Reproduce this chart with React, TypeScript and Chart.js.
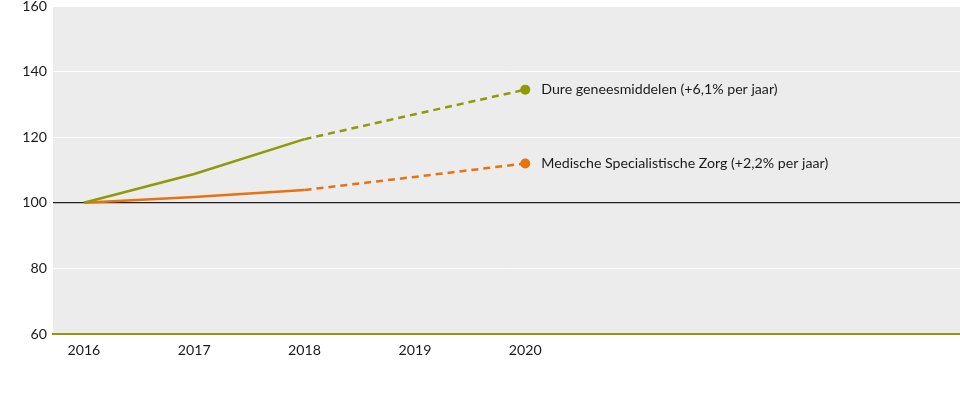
import React, { useEffect, useRef } from "react";
import { Chart, registerables } from "chart.js";

Chart.register(...registerables);

const years = [2016, 2017, 2018, 2019, 2020];
const dureGeneesmiddelen = [100, 108.8, 119.4, 127.0, 134.5];
const medischeSpecialistisch = [100, 101.8, 103.9, 107.9, 112.0];
const seriesLabels = [
  "Dure geneesmiddelen (+6,1% per jaar)",
  "Medische Specialistische Zorg (+2,2% per jaar)",
];
const yTicks = [60, 80, 100, 120, 140, 160];
const lastActual = 2018;

const OLIVE = "#8e9a07";
const ORANGE = "#e8720f";
const FONT = "Lato, 'Noto Sans', sans-serif";

const bgPlugin = {
  id: "bgPlugin",
  beforeDraw(chart: any) {
    const { ctx, chartArea } = chart;
    ctx.save();
    ctx.fillStyle = "#ebeceb";
    ctx.fillRect(chartArea.left, chartArea.top, chartArea.right - chartArea.left, chartArea.bottom - chartArea.top);
    ctx.restore();
  },
};

const endLabelPlugin = {
  id: "endLabelPlugin",
  afterDatasetsDraw(chart: any) {
    const { ctx } = chart;
    ctx.save();
    ctx.font = `14.2px ${FONT}`;
    ctx.fillStyle = "#1a1a1a";
    ctx.textBaseline = "middle";
    ctx.textAlign = "left";
    chart.data.datasets.forEach((ds: any, i: number) => {
      const meta = chart.getDatasetMeta(i);
      const pt = meta.data[meta.data.length - 1];
      if (pt) ctx.fillText(seriesLabels[i], pt.x + 16, pt.y);
    });
    ctx.restore();
  },
};

export default function App() {
  const ref = useRef<HTMLCanvasElement>(null);
  useEffect(() => {
    if (!ref.current) return;
    const mk = (vals: number[], color: string, label: string) => ({
      label,
      data: years.map((y, i) => ({ x: y, y: vals[i] })),
      borderColor: color,
      backgroundColor: color,
      borderWidth: 2.5,
      tension: 0,
      pointRadius: years.map((_, i) => (i === years.length - 1 ? 5 : 0)),
      pointHoverRadius: 0,
      pointBorderWidth: 0,
      segment: {
        borderDash: (c: any) => (c.p0.parsed.x >= lastActual ? [7, 5] : undefined),
      },
    });
    const chart = new Chart(ref.current, {
      type: "line",
      data: {
        datasets: [
          mk(dureGeneesmiddelen, OLIVE, seriesLabels[0]),
          mk(medischeSpecialistisch, ORANGE, seriesLabels[1]),
        ],
      },
      options: {
        animation: false,
        responsive: true,
        maintainAspectRatio: false,
        layout: { autoPadding: false, padding: { top: 6, right: 0, left: 0, bottom: 0 } },
        plugins: { legend: { display: false }, tooltip: { enabled: false } },
        scales: {
          x: {
            type: "linear",
            min: 2015.72,
            max: 2023.94,
            afterBuildTicks: (s: any) => {
              s.ticks = years.map((v) => ({ value: v }));
            },
            afterFit: (s: any) => {
              s.height = 60;
              s.paddingLeft = 0;
              s.paddingRight = 0;
            },
            ticks: {
              font: { family: FONT, size: 14.2 },
              color: "#1a1a1a",
              padding: 8,
              maxRotation: 0,
              callback: (v: any) => String(v),
            },
            grid: { display: false, drawTicks: false },
            border: { display: true, color: OLIVE, width: 2 },
          },
          y: {
            min: 60,
            max: 160,
            afterBuildTicks: (s: any) => {
              s.ticks = yTicks.map((v) => ({ value: v }));
            },
            afterFit: (s: any) => {
              s.width = 53;
              s.paddingTop = 0;
              s.paddingBottom = 0;
            },
            ticks: {
              font: { family: FONT, size: 14.2 },
              color: "#1a1a1a",
              padding: 6,
            },
            grid: {
              drawTicks: false,
              color: (c: any) => (c.tick && c.tick.value === 100 ? "#222222" : c.tick && c.tick.value === 60 ? "rgba(0,0,0,0)" : "#ffffff"),
              lineWidth: (c: any) => (c.tick && c.tick.value === 100 ? 1.2 : 1),
            },
            border: { display: false },
          },
        },
      },
      plugins: [bgPlugin, endLabelPlugin],
    });
    return () => chart.destroy();
  }, []);
  return (
    <div style={{ position: "fixed", left: 0, top: 0, width: 960, height: 394, background: "#fff" }}>
      <canvas ref={ref} />
    </div>
  );
}
